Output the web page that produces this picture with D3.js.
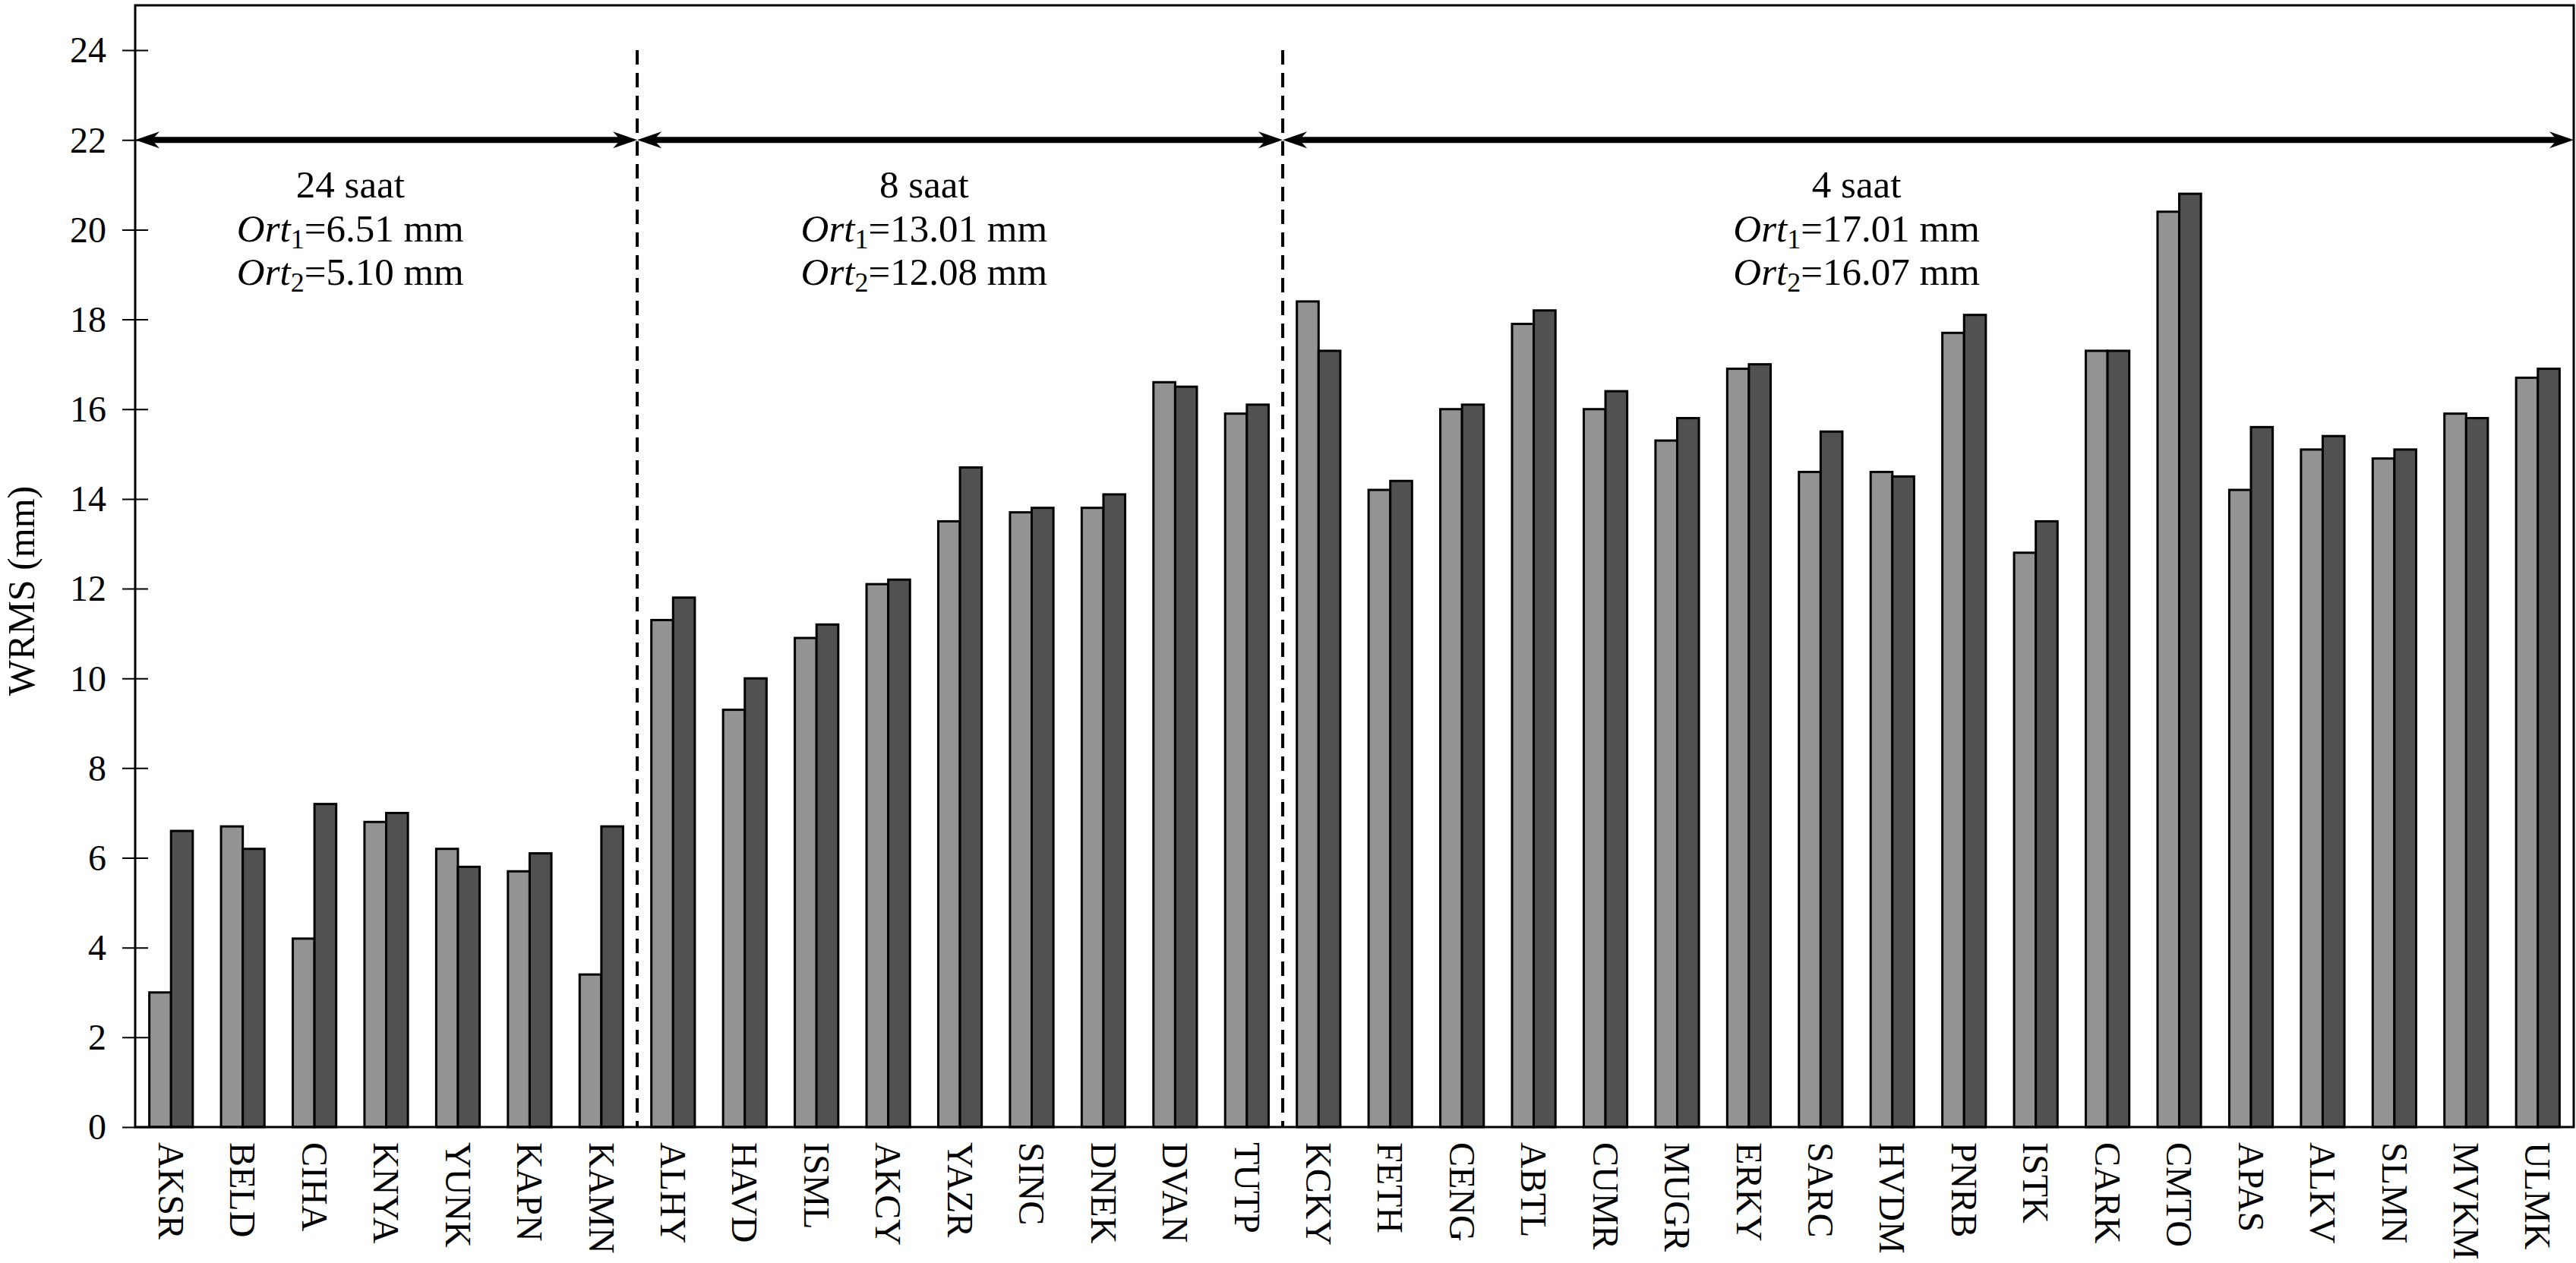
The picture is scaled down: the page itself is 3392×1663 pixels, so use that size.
<!DOCTYPE html>
<html>
<head>
<meta charset="utf-8">
<script src="https://cdn.jsdelivr.net/npm/d3@7/dist/d3.min.js"></script>
<style>
  html, body { margin: 0; padding: 0; background: #ffffff; }
  svg { display: block; }
  text { font-family: "Liberation Serif", "DejaVu Serif", serif; fill: #000; }
</style>
</head>
<body>
<script>
// ---------------- data ----------------
const stations = ["AKSR","BELD","CIHA","KNYA","YUNK","KAPN","KAMN",
  "ALHY","HAVD","ISML","AKCY","YAZR","SINC","DNEK","DVAN","TUTP",
  "KCKY","FETH","CENG","ABTL","CUMR","MUGR","ERKY","SARC","HVDM","PNRB",
  "ISTK","CARK","CMTO","APAS","ALKV","SLMN","MVKM","ULMK"];
const seriesLight = [3.0,6.7,4.2,6.8,6.2,5.7,3.4,
  11.3,9.3,10.9,12.1,13.5,13.7,13.8,16.6,15.9,
  18.4,14.2,16.0,17.9,16.0,15.3,16.9,14.6,14.6,17.7,
  12.8,17.3,20.4,14.2,15.1,14.9,15.9,16.7];
const seriesDark = [6.6,6.2,7.2,7.0,5.8,6.1,6.7,
  11.8,10.0,11.2,12.2,14.7,13.8,14.1,16.5,16.1,
  17.3,14.4,16.1,18.2,16.4,15.8,17.0,15.5,14.5,18.1,
  13.5,17.3,20.8,15.6,15.4,15.1,15.8,16.9];
const groupLabels = ["24 saat","8 saat","4 saat"];
const groupCounts = [7, 9, 18];
const ort1Values = ["6.51","13.01","17.01"];
const ort2Values = ["5.10","12.08","16.07"];
const yTicks = [0,2,4,6,8,10,12,14,16,18,20,22,24];
const yMax = 25;
const arrowLevel = 22;
const dashTop = 24;

// ---------------- layout ----------------
const W = 3392, H = 1663;
const L = 178, R = 3389, T = 7, B = 1484;

const svg = d3.select("body").append("svg")
  .attr("width", W).attr("height", H)
  .attr("viewBox", `0 0 ${W} ${H}`);

const x = d3.scaleBand().domain(stations).range([L, R]).padding(0);
const xi = d3.scaleLinear().domain([0, stations.length]).range([L, R]);
const y = d3.scaleLinear().domain([0, yMax]).range([B, T]);
const barW = 28.6;

// bars
const gBars = svg.append("g");
stations.forEach((s, i) => {
  const c = x(s) + x.bandwidth() / 2;
  gBars.append("rect")
    .attr("x", c - barW).attr("y", y(seriesLight[i]))
    .attr("width", barW).attr("height", y(0) - y(seriesLight[i]))
    .attr("fill", "#939393").attr("stroke", "#000").attr("stroke-width", 3);
  gBars.append("rect")
    .attr("x", c).attr("y", y(seriesDark[i]))
    .attr("width", barW).attr("height", y(0) - y(seriesDark[i]))
    .attr("fill", "#515151").attr("stroke", "#000").attr("stroke-width", 3);
});

// group boundaries
const bounds = [0];
groupCounts.forEach(n => bounds.push(bounds[bounds.length - 1] + n));

// dashed separators
bounds.slice(1, -1).forEach(b => {
  svg.append("line")
    .attr("x1", xi(b)).attr("x2", xi(b))
    .attr("y1", y(dashTop)).attr("y2", y(0))
    .attr("stroke", "#000").attr("stroke-width", 4)
    .attr("stroke-dasharray", "19,11");
});

// frame
svg.append("rect")
  .attr("x", L).attr("y", T).attr("width", R - L).attr("height", B - T)
  .attr("fill", "none").attr("stroke", "#000").attr("stroke-width", 3);

// double arrows
const ay = y(arrowLevel);
function head(tipX, dir) { // dir = +1 pointing right, -1 pointing left
  const l = 32, w = 11, n = 22;
  return `M${tipX},${ay} L${tipX - dir * l},${ay - w} L${tipX - dir * n},${ay} L${tipX - dir * l},${ay + w} Z`;
}
for (let g = 0; g < groupCounts.length; g++) {
  const a = xi(bounds[g]), b = xi(bounds[g + 1]);
  svg.append("line")
    .attr("x1", a + 20).attr("x2", b - 20)
    .attr("y1", ay).attr("y2", ay)
    .attr("stroke", "#000").attr("stroke-width", 8);
  svg.append("path").attr("d", head(b, 1)).attr("fill", "#000");
  svg.append("path").attr("d", head(a, -1)).attr("fill", "#000");
}

// y axis
const yAxis = d3.axisLeft(y).tickValues(yTicks).tickSize(17).tickPadding(0);
const gy = svg.append("g").attr("transform", `translate(${L},0)`).call(yAxis);
gy.select(".domain").remove();
gy.selectAll(".tick line").attr("x1", -17).attr("x2", 17)
  .attr("stroke", "#000").attr("stroke-width", 2);
gy.selectAll(".tick text")
  .attr("x", -38).attr("dy", "0.33em")
  .attr("font-size", 48).attr("font-family", "Liberation Serif")
  .attr("fill", "#000");

// x category labels
stations.forEach(s => {
  const c = x(s) + x.bandwidth() / 2;
  svg.append("text")
    .attr("transform", `translate(${c},${B + 20}) rotate(90)`)
    .attr("text-anchor", "start")
    .attr("dy", "0.34em")
    .attr("font-size", 48)
    .text(s);
});

// y title
svg.append("text")
  .attr("transform", `translate(28,778) rotate(-90)`)
  .attr("text-anchor", "middle").attr("dy", "0.34em")
  .attr("font-size", 50)
  .text("WRMS (mm)");

// group annotations
const annoPos = [3, 11, 24];
for (let g = 0; g < groupLabels.length; g++) {
  const cx = xi(annoPos[g]);
  svg.append("text").attr("x", cx).attr("y", 260)
    .attr("text-anchor", "middle").attr("font-size", 51)
    .text(groupLabels[g]);
  [[ort1Values[g], "1", 318], [ort2Values[g], "2", 375]].forEach(([val, sub, yy]) => {
    const t = svg.append("text").attr("x", cx).attr("y", yy)
      .attr("text-anchor", "middle").attr("font-size", 51);
    t.append("tspan").attr("font-style", "italic").text("Ort");
    t.append("tspan").attr("font-size", 36).attr("dy", 9).text(sub);
    t.append("tspan").attr("dy", -9).text("=" + val + " mm");
  });
}
</script>
</body>
</html>
